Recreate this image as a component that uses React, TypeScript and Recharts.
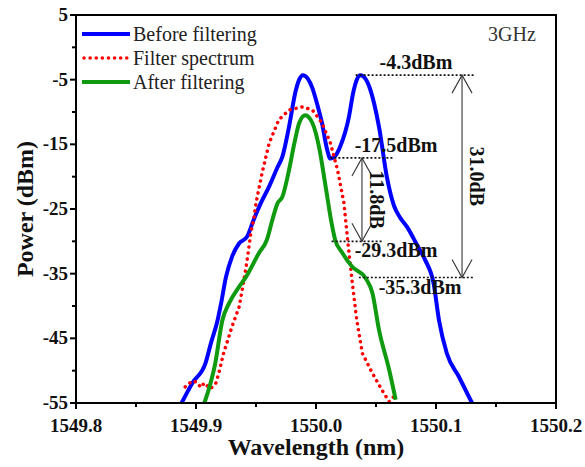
import React from "react"
import {
  LineChart,
  Line,
  XAxis,
  YAxis,
  ReferenceLine,
  ReferenceArea,
  Label,
} from "recharts"

if (typeof document !== "undefined") document.body.style.margin = "0"

const FONT = "'Liberation Serif', 'Times New Roman', serif"

// Before filtering (blue)
const beforeWavelength = [
  1549.888, 1549.897, 1549.908, 1549.9125, 1549.918, 1549.921, 1549.925, 1549.93, 1549.936, 1549.9425,
  1549.948, 1549.954, 1549.961, 1549.968, 1549.972, 1549.9775, 1549.983, 1549.986, 1549.989, 1549.993,
  1549.997, 1550.001, 1550.005, 1550.009, 1550.012, 1550.016, 1550.02, 1550.0275, 1550.031, 1550.034,
  1550.037, 1550.041, 1550.045, 1550.0525, 1550.059, 1550.065, 1550.07, 1550.076, 1550.084, 1550.091,
  1550.098, 1550.1025, 1550.109, 1550.119, 1550.13,
]
const beforePower = [
  -55, -51.9, -48.8, -45.7, -42.2, -39.5, -35.5, -32.4, -30.3, -29.3,
  -26.7, -24.1, -21.5, -18.5, -16.9, -12.3, -6.8, -5.0, -4.3, -4.8,
  -6.3, -8.8, -11.7, -15.6, -17.2, -16.8, -15.4, -10.7, -7.0, -5.0,
  -4.3, -4.8, -6.4, -12.3, -20, -24.5, -26.3, -27.8, -30.5, -32.9,
  -36.5, -42.2, -47.3, -50.9, -55,
]

// Filter spectrum (red dotted)
const filterWavelength = [
  1549.891, 1549.894, 1549.897, 1549.901, 1549.904, 1549.907, 1549.909, 1549.912, 1549.9164, 1549.919,
  1549.923, 1549.93, 1549.936, 1549.94, 1549.943, 1549.9456, 1549.948, 1549.95, 1549.955, 1549.961,
  1549.969, 1549.9775, 1549.989, 1549.997, 1550.005, 1550.012, 1550.018, 1550.0233, 1550.0247, 1550.0275,
  1550.03, 1550.034, 1550.0386, 1550.047, 1550.055, 1550.061, 1550.065,
]
const filterPower = [
  -52.5, -52.0, -51.6, -51.8, -52.6, -51.9, -52.3, -52.8, -52, -50.4,
  -47.3, -43.2, -40.1, -36, -32.4, -28.8, -26.7, -24.1, -19.5, -14.8,
  -11.2, -9.7, -9.2, -9.7, -11.7, -14.8, -19, -24.1, -26.7, -31.8,
  -36, -42.2, -47.3, -50.4, -53, -54.8, -54,
]

// After filtering (green)
const afterWavelength = [
  1549.907, 1549.916, 1549.922, 1549.9275, 1549.936, 1549.941, 1549.9525, 1549.959, 1549.9636, 1549.968,
  1549.972, 1549.9775, 1549.982, 1549.986, 1549.991, 1549.997, 1550.0025, 1550.008, 1550.013, 1550.016,
  1550.022, 1550.03, 1550.0414, 1550.047, 1550.0525, 1550.061, 1550.0664,
]
const afterPower = [
  -55, -48.9, -42.2, -39.6, -37, -35.7, -31.8, -29.8, -26.7, -24.1,
  -23.1, -19, -14.8, -11.7, -10.5, -11.7, -15.4, -21.5, -27.2, -29.8,
  -31.8, -33.9, -35.7, -38, -43.7, -49.9, -54.5,
]

const majorX = [1549.8, 1549.9, 1550.0, 1550.1, 1550.2]
const minorX = [1549.85, 1549.95, 1550.05, 1550.15]
const majorY = [5, -5, -15, -25, -35, -45, -55]
const minorY = [0, -10, -20, -30, -40, -50]

// dotted level markers
const levelLabels = ["-4.3dBm", "-17.5dBm", "-29.3dBm", "-35.3dBm"]
const levelPower = [-4.3, -17.1, -30, -35.6]
const levelStart = [1550.033, 1550.012, 1550.013, 1550.0357]
const levelEnd = [1550.132, 1550.065, 1550.055, 1550.132]
const levelTextX = [1550.0833, 1550.0667, 1550.0667, 1550.0867]
const levelTextBelow = [false, false, true, true]

// double arrows
const arrowLabels = ["11.8dB", "31.0dB"]
const arrowWavelength = [1550.0383, 1550.1217]
const arrowTop = [-17.1, -4.3]
const arrowBottom = [-30, -35.6]

const toPoints = (xs: number[], ys: number[]) => xs.map((x, i) => ({ x, y: ys[i] }))
const beforeData = toPoints(beforeWavelength, beforePower)
const filterData = toPoints(filterWavelength, filterPower)
const afterData = toPoints(afterWavelength, afterPower)

const series = [
  { name: "Before filtering", color: "#0000ff", dash: undefined as string | undefined },
  { name: "Filter spectrum", color: "#ff0000", dash: "0.1 6" },
  { name: "After filtering", color: "#109a10", dash: undefined as string | undefined },
]

const isIn = (list: number[], v: number) => list.some((m) => Math.abs(m - v) < 1e-6)

const XTick = (props: any) => {
  const { x, y, payload } = props
  const major = isIn(majorX, payload.value)
  return (
    <g>
      <line x1={x} x2={x} y1={y} y2={y + (major ? 6 : 4)} stroke="#000" strokeWidth={2} />
      {major && (
        <text x={x} y={y + 29} textAnchor="middle" fontFamily={FONT} fontWeight="bold" fontSize={19} fill="#111">
          {payload.value.toFixed(1)}
        </text>
      )}
    </g>
  )
}

const YTick = (props: any) => {
  const { x, y, payload } = props
  const major = isIn(majorY, payload.value)
  return (
    <g>
      <line x1={x - (major ? 6 : 4)} x2={x} y1={y} y2={y} stroke="#000" strokeWidth={2} />
      {major && (
        <text x={x - 8} y={y + 6} textAnchor="end" fontFamily={FONT} fontWeight="bold" fontSize={19} fill="#111">
          {payload.value}
        </text>
      )}
    </g>
  )
}

const LegendBox = () => (
  <svg width={200} height={80} style={{ position: "absolute", left: 82, top: 22 }}>
    {series.map((s, i) => (
      <g key={s.name}>
        <line
          x1={s.dash ? 2 : 0}
          x2={48}
          y1={12 + i * 24}
          y2={12 + i * 24}
          stroke={s.color}
          strokeWidth={s.dash ? 3.5 : 4}
          strokeDasharray={s.dash}
          strokeLinecap={s.dash ? "round" : "butt"}
        />
        <text x={51} y={19 + i * 24} fontFamily={FONT} fontSize={20} fill="#222">
          {s.name}
        </text>
      </g>
    ))}
  </svg>
)

const levelShape = (i: number) => (p: any) => {
  const { x1, y1, x2 } = p
  const scale = (x2 - x1) / (levelEnd[i] - levelStart[i])
  const tx = x1 + (levelTextX[i] - levelStart[i]) * scale
  return (
    <g>
      <line x1={x1} x2={x2} y1={y1} y2={y1} stroke="#111" strokeWidth={1.6} strokeDasharray="2 2" />
      <text
        x={tx}
        y={levelTextBelow[i] ? y1 + 16 : y1 - 6}
        textAnchor="middle"
        fontFamily={FONT}
        fontWeight="bold"
        fontSize={20}
        fill="#111"
      >
        {levelLabels[i]}
      </text>
    </g>
  )
}

const arrowShape = (i: number) => (p: any) => {
  const { x1, y1, y2 } = p
  const top = Math.min(y1, y2)
  const bot = Math.max(y1, y2)
  const mid = (top + bot) / 2
  return (
    <g stroke="#333" strokeWidth={1.1} fill="none">
      <line x1={x1} x2={x1} y1={top} y2={bot} />
      <path d={`M${x1 - 10},${top + 18} L${x1},${top} L${x1 + 10},${top + 18}`} />
      <path d={`M${x1 - 10},${bot - 18} L${x1},${bot} L${x1 + 10},${bot - 18}`} />
      <text
        x={x1 + 15}
        y={mid}
        transform={`rotate(90 ${x1 + 15} ${mid})`}
        textAnchor="middle"
        dominantBaseline="central"
        fontFamily={FONT}
        fontWeight="bold"
        fontSize={20}
        fill="#111"
        stroke="none"
      >
        {arrowLabels[i]}
      </text>
    </g>
  )
}

export default function App() {
  return (
    <div style={{ position: "relative", width: 585, height: 467, background: "#fff" }}>
      <LineChart width={585} height={467} margin={{ top: 15, right: 29, left: 0, bottom: 0 }}>
        <XAxis
          type="number"
          dataKey="x"
          domain={[1549.8, 1550.2]}
          ticks={[...majorX, ...minorX].sort((a, b) => a - b)}
          allowDataOverflow
          height={64}
          tickSize={0}
          tickMargin={0}
          tickLine={false}
          tick={<XTick />}
          axisLine={{ stroke: "#000", strokeWidth: 2 }}
          interval={0}
        >
          <Label
            content={(p: any) => {
              const vb = p.viewBox
              return (
                <text
                  x={vb.x + vb.width / 2}
                  y={vb.y + 52}
                  textAnchor="middle"
                  fontFamily={FONT}
                  fontWeight="bold"
                  fontSize={24}
                  fill="#111"
                >
                  Wavelength (nm)
                </text>
              )
            }}
          />
        </XAxis>
        <YAxis
          type="number"
          domain={[-55, 5]}
          ticks={[...majorY, ...minorY].sort((a, b) => b - a)}
          allowDataOverflow
          width={76}
          tickSize={0}
          tickMargin={0}
          tickLine={false}
          tick={<YTick />}
          axisLine={{ stroke: "#000", strokeWidth: 2 }}
          interval={0}
        >
          <Label
            content={(p: any) => {
              const vb = p.viewBox
              const cy = vb.y + vb.height / 2
              return (
                <text
                  x={25}
                  y={cy}
                  transform={`rotate(-90 25 ${cy})`}
                  textAnchor="middle"
                  dominantBaseline="central"
                  fontFamily={FONT}
                  fontWeight="bold"
                  fontSize={24}
                  fill="#111"
                >
                  Power (dBm)
                </text>
              )
            }}
          />
        </YAxis>
        <ReferenceArea x1={1549.8} x2={1550.2} y1={-55} y2={5} fill="none" stroke="#000" strokeWidth={2} />
        <Line
          data={beforeData}
          dataKey="y"
          name="Before filtering"
          type="monotone"
          stroke="#0000ff"
          strokeWidth={4}
          dot={false}
          isAnimationActive={false}
        />
        <Line
          data={filterData}
          dataKey="y"
          name="Filter spectrum"
          type="linear"
          stroke="#ff0000"
          strokeWidth={3.5}
          strokeDasharray="0.1 6"
          strokeLinecap="round"
          dot={false}
          isAnimationActive={false}
        />
        <Line
          data={afterData}
          dataKey="y"
          name="After filtering"
          type="monotone"
          stroke="#109a10"
          strokeWidth={4}
          dot={false}
          isAnimationActive={false}
        />
        {levelLabels.map((l, i) => (
          <ReferenceLine
            key={l}
            segment={[
              { x: levelStart[i], y: levelPower[i] },
              { x: levelEnd[i], y: levelPower[i] },
            ]}
            shape={levelShape(i)}
          />
        ))}
        {arrowLabels.map((l, i) => (
          <ReferenceLine
            key={l}
            segment={[
              { x: arrowWavelength[i], y: arrowTop[i] },
              { x: arrowWavelength[i], y: arrowBottom[i] },
            ]}
            shape={arrowShape(i)}
          />
        ))}
      </LineChart>
      <LegendBox />
      <div
        style={{
          position: "absolute",
          left: 488,
          top: 22,
          fontFamily: FONT,
          fontSize: 20,
          color: "#333",
          lineHeight: "24px",
        }}
      >
        3GHz
      </div>
    </div>
  )
}
